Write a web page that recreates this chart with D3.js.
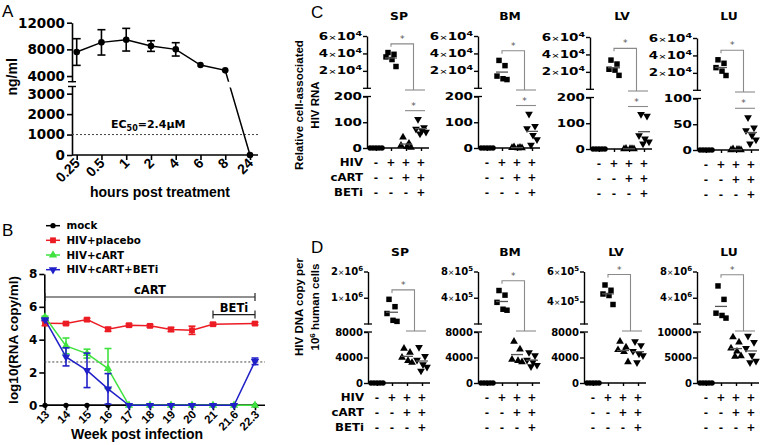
<!DOCTYPE html>
<html><head><meta charset="utf-8">
<script src="https://cdn.jsdelivr.net/npm/d3@7"></script>
<style>body{margin:0;background:#fff}</style>
</head><body><svg id="c" width="762" height="445"></svg>
<script>
// ---------------- Panel A data ----------------
const aHours = ["0.25","0.5","1","2","4","6","8","24"];
const aMean  = [7600, 9050, 9450, 8500, 8000, 5650, 4850, 0];
const aErr   = [2000, 1900, 1700, 800, 1000, 0, 0, 0];
const aTicksUpper = [4000, 8000, 12000];
const aTicksLower = [0, 1000, 2000, 3000];
const aEC50 = 1000;

// ---------------- Panel B data ----------------
const bWeeks = ["13","14","15","16","17","18","19","20","21","21.6","22.3"];
const bSeries = ["mock","HIV+placebo","HIV+cART","HIV+cART+BETi"];
const bMock       = [0,0,0,0,0,0,0,0,0,0,0];
const bPlacebo    = [5.0,4.98,5.22,4.63,4.88,4.84,4.62,4.57,4.94,null,4.98];
const bPlaceboErr = [0.15,0.08,0.08,0.12,0.08,0.08,0.12,0.25,0.08,null,0.08];
const bCart       = [5.38,3.62,3.15,2.24,0,0,0,0,0,0,0];
const bCartErr    = [0.05,0.48,0.27,1.22,0,0,0,0,0,0,0];
const bBeti       = [5.22,2.95,2.13,1.0,0,0,0,0,0,0,2.68];
const bBetiErr    = [0.05,0.55,1.05,0.93,0,0,0,0,0,0,0.2];
const bTicksY = [0,2,4,6,8];
const bDetect = 2.64;
const bCartSpan = ["13","22.3"], bCartLevel = 6.6;
const bBetiSpan = ["21","22.3"], bBetiLevel = 5.53;

// ---------------- Panels C / D data ----------------
const tissues = ["SP","BM","LV","LU"];
const rowLabels = ["HIV","cART","BETi"];
const rowSigns = [["-","+","+","+"],["-","-","+","+"],["-","-","-","+"]];
// groups: mock, HIV, HIV+cART, HIV+cART+BETi
const rnaSP = [[0,0,0,0,0],[41000,39000,36000,33000,25000],[42,18,10,5,2],[112,80,74,68,62,55]];
const rnaBM = [[0,0,0,0,0],[32000,26000,14000,11000,10000],[4,2,1,0,0],[132,85,76,50,33,12]];
const rnaLV = [[0,0,0,0,0],[33500,29000,23000,22000,16000],[2,1,0,1,0],[135,128,52,40,28,20]];
const rnaLU = [[0,0,0,0,0],[35000,31000,26000,22000,17000],[2,1,0,1,0],[63,43,38,28,20,12]];
const rnaUpperDomain = [[0,60000],[0,60000],[0,60000],[0,60000]];
const rnaUpperTicks = [[20000,40000,60000],[20000,40000,60000],[20000,40000,60000],[20000,40000,60000]];
const rnaLowerTicks = [[0,100,200],[0,100,200],[0,100,200],[0,50,100]];
const rnaSigTop = [51000,43000,47000,46000];
const rnaSigLow = [145,165,165,81];

const dnaSP = [[0,0,0,0,0],[940000,660000,400000,140000,100000],[5400,4800,4000,3500,3200],[5600,4200,3600,2900,2500,1900]];
const dnaBM = [[0,0,0,0,0],[510000,440000,330000,225000,210000],[6500,5300,3700,3500,3300],[4800,4300,3600,3300,2800,2600]];
const dnaLV = [[0,0,0,0,0],[510000,475000,450000,440000,380000],[6500,5600,5200,4900,3300],[6500,5900,5000,4600,4300,3200]];
const dnaLU = [[0,0,0,0,0],[5800000,3750000,1650000,1300000,900000],[9000,8000,6800,6200,5300,5200],[9200,8000,6800,5400,4300,4000]];
const dnaUpperDomain = [[0,2e6],[0,8e5],[2.5e5,6e5],[0,8e6]];
const dnaUpperTicks = [[1e6,2e6],[4e5,8e5],[4e5,6e5],[4e6,8e6]];
const dnaLowerTicks = [[0,4000,8000],[0,4000,8000],[0,4000,8000],[0,5000,10000]];
const dnaSigTop = [1.3e6,6.6e5,5.8e5,7.5e6];

// ---------------- helpers ----------------
const svg = d3.select("#c");
const DV = '"DejaVu Sans", sans-serif', LS = '"Liberation Sans", Arial, sans-serif';
function txt(g, x, y, s, o = {}) {
  let tr = `translate(${x},${y})`;
  if (o.rot) tr += ` rotate(${o.rot})`;
  if (o.sx && o.sx !== 1) tr += ` scale(${o.sx},1)`;
  const t = g.append("text").attr("transform", tr)
    .attr("font-family", o.font || DV).attr("font-size", o.size || 11)
    .attr("font-weight", o.weight || "bold").attr("text-anchor", o.anchor || "start")
    .attr("fill", o.fill || "#000");
  if (o.dy) t.attr("dy", o.dy);
  if (s !== null) t.text(s);
  return t;
}
function styleAxis(sel, w) {
  sel.select(".domain").attr("stroke-width", w).attr("stroke", "#000");
  sel.selectAll(".tick line").attr("stroke-width", w).attr("stroke", "#000");
  sel.selectAll("text").remove();
}
function hline(g, x1, x2, y, w, col) {
  g.append("line").attr("x1", x1).attr("x2", x2).attr("y1", y).attr("y2", y)
    .attr("stroke", col || "#000").attr("stroke-width", w || 1.5);
}
function vline(g, x, y1, y2, w, col) {
  g.append("line").attr("x1", x).attr("x2", x).attr("y1", y1).attr("y2", y2)
    .attr("stroke", col || "#000").attr("stroke-width", w || 1.5);
}
const sym = (type, size) => d3.symbol().type(type).size(size)();

// ================= Panel A =================
const gA = svg.append("g");
txt(gA, 2, 17, "A", {font: LS, size: 17, weight: "normal"});
const A0 = 72, Ay0 = 155, Ax1 = 258;
const axA = d3.scalePoint().domain(aHours).range([76.7, 250]);
const ayAU = d3.scaleLinear().domain([3150, 12000]).range([81.7, 22.7]);
const ayAL = d3.scaleLinear().domain([0, 3350]).range([Ay0, 86.5]);
const ayA = v => v > 3250 ? ayAU(v) : ayAL(v);
gA.append("g").attr("transform", `translate(${A0},0)`)
  .call(d3.axisLeft(ayAU).tickValues(aTicksUpper).tickSize(5).tickSizeOuter(0)).call(styleAxis, 1.6);
gA.append("g").attr("transform", `translate(${A0},0)`)
  .call(d3.axisLeft(ayAL).tickValues(aTicksLower).tickSize(5).tickSizeOuter(0)).call(styleAxis, 1.6);
hline(gA, A0 - 4, A0 + 4, ayAU.range()[0], 1.4);
hline(gA, A0 - 4, A0 + 4, ayAL.range()[1], 1.4);
aTicksUpper.forEach(v => txt(gA, A0 - 7, ayAU(v), d3.format("d")(v), {anchor: "end", dy: "0.36em", size: 13.5}));
aTicksLower.forEach(v => txt(gA, A0 - 7, ayAL(v), d3.format("d")(v), {anchor: "end", dy: "0.36em", size: 13.5}));
const gAx = gA.append("g").attr("transform", `translate(0,${Ay0})`)
  .call(d3.axisBottom(axA).tickSize(5).tickSizeOuter(0)).call(styleAxis, 1.6);
gAx.select(".domain").remove();
hline(gA, A0, Ax1, Ay0, 1.6);
aHours.forEach(h => txt(gA, axA(h) + 4, Ay0 + 9, h, {font: LS, anchor: "end", rot: -45, size: 14}));
txt(gA, 160, 197, "hours post treatment", {font: LS, size: 14, anchor: "middle"});
txt(gA, 17, (22.7 + Ay0) / 2 - 12, "ng/ml", {font: LS, size: 14, anchor: "middle", rot: -90});
// EC50 line
gA.append("line").attr("x1", A0).attr("x2", Ax1).attr("y1", ayAL(aEC50)).attr("y2", ayAL(aEC50))
  .attr("stroke", "#444").attr("stroke-width", 1).attr("stroke-dasharray", "2,2");
const ec = txt(gA, 111, ayAL(aEC50) - 7, null, {size: 11});
ec.append("tspan").text("EC");
ec.append("tspan").attr("font-size", 8).attr("dy", 3).text("50");
ec.append("tspan").attr("dy", -3).text("=2.4\u00B5M");
// line with broken segment
const defs = svg.append("defs");
defs.append("clipPath").attr("id", "aU").append("rect").attr("x", 0).attr("y", 0).attr("width", 300).attr("height", ayAU.range()[0]);
defs.append("clipPath").attr("id", "aL").append("rect").attr("x", 0).attr("y", 87.5).attr("width", 300).attr("height", 120);
const aLine = d3.line().x((d, i) => axA(aHours[i])).y(d => ayA(d));
["aU", "aL"].forEach(id => gA.append("path").attr("d", aLine(aMean)).attr("fill", "none")
  .attr("stroke", "#000").attr("stroke-width", 1.5).attr("clip-path", `url(#${id})`));
aMean.forEach((m, i) => {
  const x = axA(aHours[i]);
  if (aErr[i] > 0) {
    vline(gA, x, ayA(m - aErr[i]), ayA(m + aErr[i]), 1.6);
    hline(gA, x - 4, x + 4, ayA(m - aErr[i]), 1.6);
    hline(gA, x - 4, x + 4, ayA(m + aErr[i]), 1.6);
  }
  gA.append("circle").attr("cx", x).attr("cy", ayA(m)).attr("r", 3.3).attr("fill", "#000");
});

// ================= Panel B =================
const gB = svg.append("g");
txt(gB, 2, 236, "B", {font: LS, size: 17, weight: "normal"});
const B0 = 44.3, By0 = 405.3, Bx1 = 265;
const bx = d3.scalePoint().domain(bWeeks).range([45, 255]);
const by = d3.scaleLinear().domain([0, 8]).range([By0, 274]);
gB.append("g").attr("transform", `translate(${B0},0)`)
  .call(d3.axisLeft(by).tickValues(bTicksY).tickSize(5).tickSizeOuter(0)).call(styleAxis, 1.6);
bTicksY.forEach(v => txt(gB, B0 - 7, by(v), String(v), {anchor: "end", dy: "0.36em", size: 12}));
const gBx = gB.append("g").attr("transform", `translate(0,${By0})`)
  .call(d3.axisBottom(bx).tickSize(5).tickSizeOuter(0)).call(styleAxis, 1.6);
gBx.select(".domain").remove();
hline(gB, B0, Bx1, By0, 1.6);
bWeeks.forEach(w => txt(gB, bx(w) + 5, By0 + 10, w, {font: LS, anchor: "end", rot: -45, size: 11.5}));
txt(gB, 137, 439, "Week post infection", {font: LS, size: 14, anchor: "middle"});
txt(gB, 18, 340, "log10(RNA copy/ml)", {font: LS, size: 13.5, anchor: "middle", rot: -90});
gB.append("line").attr("x1", B0).attr("x2", Bx1).attr("y1", by(bDetect)).attr("y2", by(bDetect))
  .attr("stroke", "#444").attr("stroke-width", 1).attr("stroke-dasharray", "2,2");
// treatment brackets
[[bCartSpan, bCartLevel, "cART"], [bBetiSpan, bBetiLevel, "BETi"]].forEach(([sp, lv, lab]) => {
  const x1 = bx(sp[0]), x2 = bx(sp[1]), y = by(lv);
  hline(gB, x1, x2, y, 1.2, "#222");
  vline(gB, x1, y - 4, y + 4, 1.2, "#222");
  vline(gB, x2, y - 4, y + 4, 1.2, "#222");
  txt(gB, (x1 + x2) / 2, y - 3, lab, {size: 11.5, anchor: "middle"});
});
const bColors = ["#000000", "#ec1c24", "#3fe23f", "#2020c8"];
const bMarks = [
  sym(d3.symbolCircle, 22), sym(d3.symbolSquare, 34), sym(d3.symbolTriangle, 30), sym(d3.symbolTriangle, 30)
];
const bRot = [0, 0, 0, 180];
const bData = [[bMock, null], [bPlacebo, bPlaceboErr], [bCart, bCartErr], [bBeti, bBetiErr]];
const bLine = d3.line().defined(d => d[1] !== null).x(d => bx(d[0])).y(d => by(d[1]));
bData.forEach(([vals, errs], s) => {
  const pts = bWeeks.map((w, i) => [w, vals[i]]).filter(d => d[1] !== null);
  gB.append("path").attr("d", bLine(pts)).attr("fill", "none").attr("stroke", bColors[s]).attr("stroke-width", 1.5);
  pts.forEach(([w, v]) => {
    const i = bWeeks.indexOf(w);
    const x = bx(w);
    if (errs && errs[i] > 0) {
      vline(gB, x, by(v - errs[i]), by(v + errs[i]), 1.6, bColors[s]);
      hline(gB, x - 3.5, x + 3.5, by(v - errs[i]), 1.6, bColors[s]);
      hline(gB, x - 3.5, x + 3.5, by(v + errs[i]), 1.6, bColors[s]);
    }
    gB.append("path").attr("d", bMarks[s]).attr("fill", bColors[s])
      .attr("transform", `translate(${x},${by(v)}) rotate(${bRot[s]})`);
  });
});
// legend
const legY = [225.7, 240.3, 255, 269.7];
bSeries.forEach((name, s) => {
  hline(gB, 46, 60, legY[s], 1.5, bColors[s]);
  gB.append("path").attr("d", bMarks[s]).attr("fill", bColors[s])
    .attr("transform", `translate(53,${legY[s]}) rotate(${bRot[s]})`);
  txt(gB, 66.5, legY[s], name, {size: 10.3, dy: "0.36em"});
});

// ================= Panels C / D =================
function sciLabel(g, x, y, v, sx) {
  const e = Math.floor(Math.log10(v) + 1e-9), m = Math.round(v / Math.pow(10, e));
  const t = txt(g, x, y, null, {anchor: "end", size: 10, sx: sx, dy: "0.36em"});
  t.append("tspan").text(m);
  t.append("tspan").attr("font-size", 7.5).attr("font-weight", "normal").text("\u00D7");
  t.append("tspan").text("10");
  t.append("tspan").attr("font-size", 7).attr("dy", -4).text(e);
}
const jit = [-3, 3, -5, 1, 5, -1];
const jitMock = [-6, -3, 0, 3, 6];
const markSyms = [sym(d3.symbolCircle, 24), sym(d3.symbolSquare, 30), sym(d3.symbolTriangle, 26), sym(d3.symbolTriangle, 26)];
const markRot = [0, 0, 0, 180];

function drawStrip(g, o) {
  const xs = d3.scalePoint().domain([0, 1, 2, 3]).range([o.x0 + 9, o.x0 + 54]);
  const yU = d3.scaleLinear().domain(o.upDom).range(o.upRange);
  const yL = d3.scaleLinear().domain([0, o.lowTicks[o.lowTicks.length - 1]]).range(o.lowRange);
  const lowMax = yL.domain()[1];
  const yv = v => v > lowMax ? yU(v) : yL(v);
  g.append("g").attr("transform", `translate(${o.x0},0)`)
    .call(d3.axisLeft(yU).tickValues(o.upTicks).tickSize(4).tickSizeOuter(0)).call(styleAxis, 1.4);
  g.append("g").attr("transform", `translate(${o.x0},0)`)
    .call(d3.axisLeft(yL).tickValues(o.lowTicks).tickSize(4).tickSizeOuter(0)).call(styleAxis, 1.4);
  hline(g, o.x0 - 4, o.x0 + 4, o.upRange[0], 1.3);
  hline(g, o.x0 - 4, o.x0 + 4, o.lowRange[1], 1.3);
  o.upTicks.forEach(v => sciLabel(g, o.x0 - 5, yU(v), v, o.tsx));
  o.lowTicks.forEach(v => txt(g, o.x0 - 5, yL(v), String(v), {anchor: "end", size: 10, sx: o.tsx, dy: "0.36em"}));
  const gx = g.append("g").attr("transform", `translate(0,${o.lowRange[0]})`)
    .call(d3.axisBottom(xs).tickSize(3).tickSizeOuter(0)).call(styleAxis, 1.4);
  gx.select(".domain").remove();
  hline(g, o.x0, o.x0 + 62, o.lowRange[0], 1.4);
  txt(g, o.x0 + 32, o.titleY, o.title, {size: 11, sx: 1.12, anchor: "middle"});
  // signs
  rowSigns.forEach((row, r) => {
    row.forEach((s, c) => txt(g, xs(c), o.lowRange[0] + 18 + 15 * r, s === "-" ? "-" : "+", {size: 10.5, anchor: "middle"}));
    if (o.rowLabels) txt(g, o.x0 - 4, o.lowRange[0] + 18 + 15 * r, rowLabels[r], {size: 10.5, sx: 1.12, anchor: "end"});
  });
  // data
  o.data.forEach((vals, gi) => {
    const mean = d3.mean(vals);
    vals.forEach((v, k) => {
      const dx = gi === 0 ? jitMock[k % 5] : jit[k % 6];
      g.append("path").attr("d", markSyms[gi]).attr("fill", "#000")
        .attr("transform", `translate(${xs(gi) + dx},${yv(v)}) rotate(${markRot[gi]})`);
    });
    if (gi > 0) hline(g, xs(gi) - 6, xs(gi) + 6, yv(mean), 1.3, "#555");
  });
  // significance
  const gc = "#8a8a8a";
  const x1 = xs(1), x2 = (xs(2) + xs(3)) / 2, ty = yU(o.sigTop);
  g.append("path").attr("d", `M${x1},${ty + 3}V${ty}H${x2}V${o.sigLegY}`).attr("fill", "none").attr("stroke", gc).attr("stroke-width", 1.1);
  hline(g, xs(2) - 1, xs(3) + 4, o.sigLegY, 1.1, gc);
  txt(g, (x1 + x2) / 2, ty - 2, "*", {size: 9, weight: "normal", anchor: "middle", fill: "#555"});
  if (o.sigLow !== undefined) {
    const ly = yL(o.sigLow);
    hline(g, xs(2) - 1, xs(3) + 4, ly, 1.1, gc);
    txt(g, (xs(2) + xs(3)) / 2, ly - 2, "*", {size: 9, weight: "normal", anchor: "middle", fill: "#555"});
  }
}

const gC = svg.append("g");
txt(gC, 311, 18, "C", {font: LS, size: 17, weight: "normal"});
txt(gC, 303, 105, "Relative cell-associated", {font: LS, size: 11.5, anchor: "middle", rot: -90});
txt(gC, 319, 105, "HIV RNA", {font: LS, size: 11.5, anchor: "middle", rot: -90});
const cX0 = [367, 478, 590, 697];
const cDy = [0, 0, 1, 2];
const rnaData = [rnaSP, rnaBM, rnaLV, rnaLU];
tissues.forEach((t, i) => {
  drawStrip(gC, {
    x0: cX0[i], title: t, titleY: 19.5, rowLabels: i === 0, tsx: 1.35,
    upDom: rnaUpperDomain[i], upRange: [88.3 + cDy[i], 36 + cDy[i]], upTicks: rnaUpperTicks[i],
    lowTicks: rnaLowerTicks[i], lowRange: [148 + cDy[i], 96.5 + cDy[i]],
    data: rnaData[i], sigTop: rnaSigTop[i], sigLow: rnaSigLow[i], sigLegY: 90 + cDy[i]
  });
});

const gD = svg.append("g");
txt(gD, 311, 253, "D", {font: LS, size: 17, weight: "normal"});
txt(gD, 303, 307, "HIV DNA copy per", {font: LS, size: 11.5, anchor: "middle", rot: -90});
const dl = txt(gD, 319, 307, null, {font: LS, size: 11.5, anchor: "middle", rot: -90});
dl.append("tspan").text("10");
dl.append("tspan").attr("font-size", 8).attr("dy", -4).text("6");
dl.append("tspan").attr("dy", 4).text(" human cells");
const dX0 = [368, 478, 584, 697];
const dnaData = [dnaSP, dnaBM, dnaLV, dnaLU];
tissues.forEach((t, i) => {
  drawStrip(gD, {
    x0: dX0[i], title: t, titleY: 256, rowLabels: i === 0, tsx: 1.0,
    upDom: dnaUpperDomain[i], upRange: [324, 271.5], upTicks: dnaUpperTicks[i],
    lowTicks: dnaLowerTicks[i], lowRange: [383, 332],
    data: dnaData[i], sigTop: dnaSigTop[i], sigLegY: 331
  });
});
</script>
</body></html>
